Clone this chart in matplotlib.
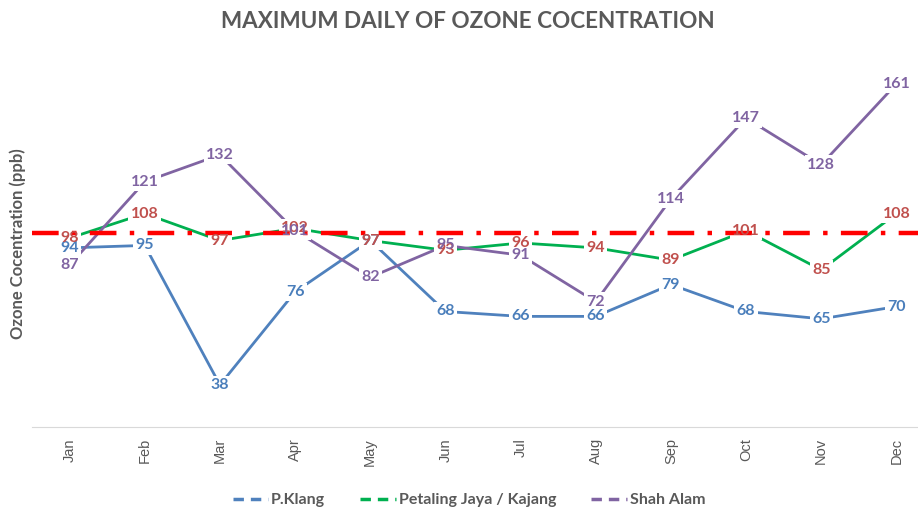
import matplotlib
matplotlib.use("Agg")
import matplotlib.pyplot as plt
from matplotlib.lines import Line2D

months = ["Jan", "Feb", "Mar", "Apr", "May", "Jun", "Jul", "Aug", "Sep", "Oct", "Nov", "Dec"]
klang = [94, 95, 38, 76, 97, 68, 66, 66, 79, 68, 65, 70]
petaling = [98, 108, 97, 102, 97, 93, 96, 94, 89, 101, 85, 108]
shah_alam = [87, 121, 132, 101, 82, 95, 91, 72, 114, 147, 128, 161]
limit = 100

series = [
    ("P.Klang", klang, "#4F81BD", "#4A7EBB"),
    ("Petaling Jaya / Kajang", petaling, "#00B050", "#C0504D"),
    ("Shah Alam", shah_alam, "#8064A2", "#8064A2"),
]

plt.rcParams['font.family'] = ['Lato', 'DejaVu Sans']

fig = plt.figure(figsize=(9.18, 5.12), dpi=100)
ax = fig.add_axes([32 / 918, 0.166, 902 / 918, 0.761])

x = list(range(len(months)))
for name, vals, lc, tc in series:
    ax.plot(x, vals, color=lc, lw=2, zorder=2)
    for xi, v in zip(x, vals):
        # white box hides the lines under the label, but not the other labels
        ax.text(xi, v, str(v), ha="center", va="center", color=(0, 0, 0, 0),
                fontsize=11.5, fontweight="bold", zorder=3,
                bbox=dict(boxstyle="square,pad=0.15", fc="white", ec="none"))
        ax.text(xi, v, str(v), ha="center", va="center", color=tc,
                fontsize=11.5, fontweight="bold", zorder=4)

ax.axhline(limit, color="#FF0000", lw=3.2, ls=(0, (6, 3, 1, 3)), zorder=3.5)

ax.set_xlim(-0.5, 11.5)
ax.set_ylim(20.8, 180)
ax.set_xticks(x)
ax.set_xticklabels(months, rotation=90, family=['Liberation Sans'], fontsize=10.5, color="#595959")
ax.tick_params(axis="x", length=0, pad=8)
ax.set_yticks([])
for s in ["top", "right", "left"]:
    ax.spines[s].set_visible(False)
ax.spines["bottom"].set_color("#D9D9D9")

fig.text(468 / 918, 1 - 22 / 512, "MAXIMUM DAILY OF OZONE COCENTRATION", ha="center", va="center",
         fontsize=16.2, fontweight="bold", color="#595959")
fig.text(18 / 918, 1 - 244 / 512, "Ozone Cocentration (ppb)", rotation=90, ha="center", va="center",
         fontsize=12, fontweight="bold", color="#595959")

handles = [Line2D([], [], color=lc, lw=2.5, ls=(0, (3, 2))) for _, _, lc, _ in series]
labels = [name for name, _, _, _ in series]
fig.legend(handles, labels, loc="center", bbox_to_anchor=(469 / 918, 1 - 500 / 512), ncol=3,
           frameon=False, handlelength=2.2, columnspacing=2.2, handletextpad=0.2,
           prop=dict(weight="bold", size=11.5), labelcolor="#595959")

fig.savefig("out.png", dpi=100)
